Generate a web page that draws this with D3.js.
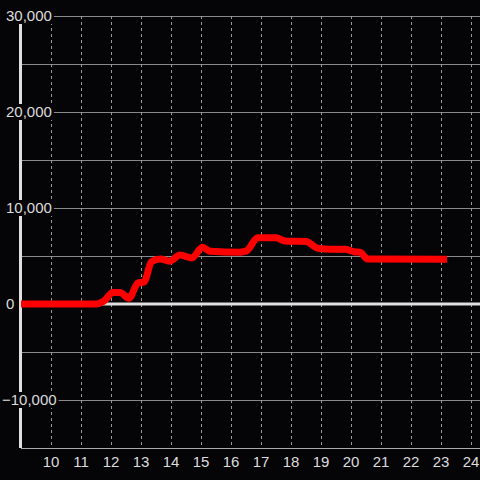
<!DOCTYPE html>
<html>
<head>
<meta charset="utf-8">
<script src="https://cdn.jsdelivr.net/npm/d3@7"></script>
<style>
  html, body { margin: 0; padding: 0; background: #050407; }
  svg { display: block; }
  text { font-family: "Liberation Sans", Arial, sans-serif; font-size: 15px; fill: #dddddd; }
</style>
</head>
<body>
<svg id="chart" width="480" height="480"></svg>
<script>
// Data: time (hours) and value
const times  = [9.0, 11.5, 11.7, 11.8, 12.05, 12.3, 12.6, 12.9, 13.1, 13.35, 13.65, 13.95, 14.3, 14.7, 15.05, 15.3, 16.3, 16.5, 16.9, 17.5, 17.8, 18.5, 18.9, 19.3, 19.8, 20.1, 20.3, 20.55, 23.2];
const values = [0, 0, 200, 400, 1200, 1200, 600, 2200, 2300, 4400, 4700, 4450, 5100, 4800, 5900, 5500, 5400, 5500, 6900, 6900, 6550, 6500, 5800, 5700, 5700, 5450, 5400, 4700, 4650];
const xTicks = [10, 11, 12, 13, 14, 15, 16, 17, 18, 19, 20, 21, 22, 23, 24];
const yTicks = [-10000, 0, 10000, 20000, 30000];
const yGrid  = [-10000, -5000, 0, 5000, 10000, 15000, 20000, 25000, 30000];

(function () {
const svg = d3.select("#chart");
const W = 480, H = 480;
const pLeft = 21, pRight = 480, pTop = 16, pBottom = 448;

const x = d3.scaleLinear().domain([9, 24.3]).range([pLeft, pRight]);
const y = d3.scaleLinear().domain([-15000, 30000]).range([pBottom, pTop]);

svg.append("rect").attr("width", W).attr("height", H).attr("fill", "#050407");

// horizontal grid
svg.append("g").selectAll("line").data(yGrid.filter(d => d !== 0)).join("line")
  .attr("x1", pLeft).attr("x2", pRight)
  .attr("y1", d => Math.round(y(d)) + 0.5).attr("y2", d => Math.round(y(d)) + 0.5)
  .attr("stroke", "#8a8a8a").attr("stroke-width", 1);

// vertical dashed grid
svg.append("g").selectAll("line").data(xTicks).join("line")
  .attr("x1", d => Math.round(x(d)) + 0.5).attr("x2", d => Math.round(x(d)) + 0.5)
  .attr("y1", pTop).attr("y2", pBottom)
  .attr("stroke", "#9a9a9a").attr("stroke-width", 1).attr("stroke-dasharray", "3,3");

// x axis baseline
svg.append("line").attr("x1", pLeft).attr("x2", pRight)
  .attr("y1", pBottom + 0.5).attr("y2", pBottom + 0.5)
  .attr("stroke", "#aaaaaa").attr("stroke-width", 1);

// zero line
svg.append("line").attr("x1", pLeft).attr("x2", pRight)
  .attr("y1", y(0)).attr("y2", y(0))
  .attr("stroke", "#e0e0e0").attr("stroke-width", 3);

// y axis line
svg.append("line").attr("x1", 20.5).attr("x2", 20.5)
  .attr("y1", pTop).attr("y2", pBottom)
  .attr("stroke", "#e0e0e0").attr("stroke-width", 3);

// y tick labels with black background
const fmt = d3.format(",");
const yl = svg.append("g").selectAll("g").data(yTicks).join("g")
  .attr("transform", d => `translate(${d < 0 ? 2 : 6},${y(d)})`);
yl.append("text").attr("dy", "0.36em").text(d => fmt(d));
yl.each(function() {
  const g = d3.select(this);
  const bb = g.select("text").node().getBBox();
  g.insert("rect", "text").attr("x", bb.x - 1).attr("y", -8).attr("width", bb.width + 3).attr("height", 16)
    .attr("fill", "#050407");
});

// x tick labels
svg.append("g").selectAll("text").data(xTicks).join("text")
  .attr("x", d => x(d)).attr("y", 467).attr("text-anchor", "middle")
  .text(d => d);

// data line
const data = times.map((t, i) => ({ t, v: values[i] }));
const line = d3.line().x(d => x(d.t)).y(d => y(d.v)).curve(d3.curveMonotoneX);
svg.append("path").datum(data).attr("d", line)
  .attr("fill", "none").attr("stroke", "#ff0000").attr("stroke-width", 7)
  .attr("stroke-linejoin", "round").attr("stroke-linecap", "butt");
})();
</script>
</body>
</html>
